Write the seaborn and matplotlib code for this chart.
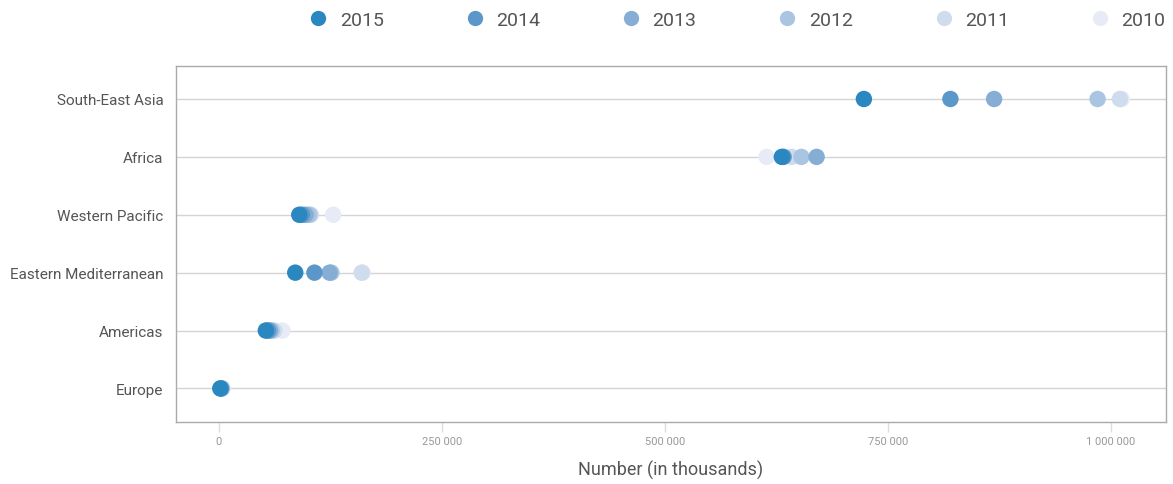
import pandas as pd
import matplotlib.pyplot as plt
import seaborn as sns
from matplotlib.ticker import FuncFormatter

regions = ["South-East Asia", "Africa", "Western Pacific",
           "Eastern Mediterranean", "Americas", "Europe"]
years = ["2015", "2014", "2013", "2012", "2011", "2010"]

# values, in thousands, one list per region (2015 -> 2010)
south_east_asia = [723000, 820000, 869000, 985000, 1010000, 1012000]
africa = [631000, 633000, 670000, 653000, 642000, 614000]
western_pacific = [90000, 93000, 97000, 101000, 103000, 128000]
eastern_med = [85500, 107000, 124000, 126000, 160000, 161000]
americas = [52500, 55000, 57000, 59000, 62000, 71000]
europe = [1500, 2000, 2500, 3000, 3500, 4000]

palette = ["#2a87c0", "#5b97c8", "#86aed5", "#a9c5e2", "#cfdcee", "#e6ebf5"]

rows = []
for reg, vals in zip(regions, [south_east_asia, africa, western_pacific,
                               eastern_med, americas, europe]):
    for yr, v in zip(years, vals):
        rows.append({"region": reg, "year": yr, "value": v})
df = pd.DataFrame(rows)
# draw oldest first so 2015 sits on top
df["order"] = df["year"].map({y: i for i, y in enumerate(years)})
df = df.sort_values("order", ascending=False)
df["ypos"] = df["region"].map({r: i for i, r in enumerate(regions)})

sns.set_style("white")
plt.rcParams["font.family"] = ["Roboto", "DejaVu Sans"]

fig = plt.figure(figsize=(11.73, 4.85), dpi=100)
ax = fig.add_axes([176 / 1173, 1 - 423 / 485, 990 / 1173, 356 / 485])

for i in range(len(regions)):
    ax.axhline(i, color="#d4d4d4", lw=1, zorder=0)

sns.scatterplot(data=df, x="value", y="ypos",
                hue="year", hue_order=years, palette=palette, s=140,
                linewidth=0, alpha=1, legend=False, ax=ax, zorder=3)

ax.set_ylim(len(regions) - 0.42, -0.57)
ax.set_xlim(-48200, 1061700)
ax.set_yticks(range(len(regions)))
ax.set_yticklabels(regions, fontsize=11, color="#555555")
ax.set_xticks([0, 250000, 500000, 750000, 1000000])
ax.xaxis.set_major_formatter(FuncFormatter(lambda v, p: f"{int(v):,}".replace(",", " ")))
ax.tick_params(axis="x", labelsize=8, colors="#999999", length=7,
               width=1, direction="out", pad=3, bottom=True)
ax.tick_params(axis="x", which="both", color="#dddddd")
ax.tick_params(axis="y", length=0, pad=9)
ax.set_xlabel("Number (in thousands)", fontsize=13, color="#555555", labelpad=10)
ax.set_ylabel("")

for s in ax.spines.values():
    s.set_color("#aaaaaa")
    s.set_linewidth(1)

handles = [plt.Line2D([], [], marker="o", ls="", color=c, markersize=11, markeredgewidth=0)
           for c in palette]
fig.legend(handles, years, loc="upper left", bbox_to_anchor=(299 / 1173, 1.0),
           ncol=6, frameon=False, fontsize=14, handlelength=0.8, handletextpad=0.7,
           borderpad=0.1, columnspacing=4.28, labelcolor="#555555")

fig.savefig("out.png", dpi=100)
